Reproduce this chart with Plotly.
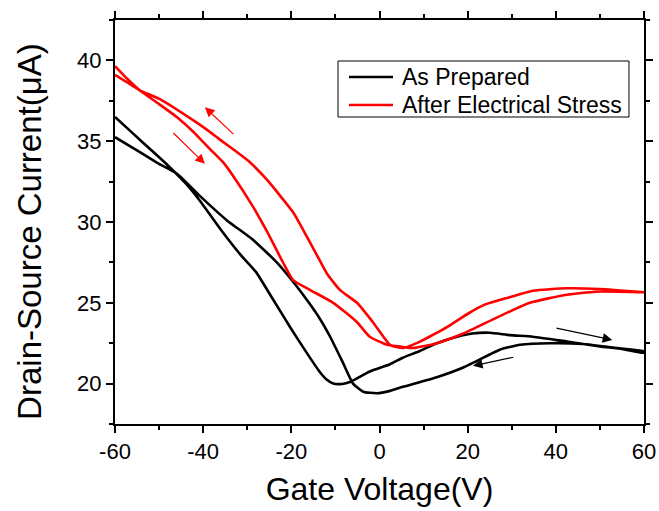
import plotly.graph_objects as go

# ---- data (Gate voltage V, Drain-source current uA) ----
# As Prepared: forward sweep (-60 -> 60)
ap_fwd_v = [-60, -56, -52, -48, -44, -40.7, -36.2, -31.6, -28, -24.8, -20.3, -16.5, -13.5, -12,
            -10.5, -8.5, -6.7, -2.2, 2.4, 5.3, 9, 13, 17.6, 21, 25, 29.6, 34.8, 42.5, 50, 55, 60]
ap_fwd_i = [36.5, 35.5, 34.5, 33.5, 32.4, 31.3, 29.6, 28.0, 26.9, 25.5, 23.5, 21.9, 20.7, 20.25,
            20.0, 19.98, 20.1, 20.75, 21.2, 21.6, 22.0, 22.5, 22.9, 23.1, 23.15, 23.0, 22.9, 22.6, 22.3, 22.15, 21.9]
# As Prepared: reverse sweep (60 -> -60)
ap_rev_v = [60, 53.9, 46.2, 38.7, 31.9, 27.3, 25, 19, 13, 5.3, 2.4, -0.6, -3.7, -6, -8.3, -11.2,
            -13.5, -16, -19.6, -23.3, -28.7, -34.6, -40.7, -46, -50, -53.6, -60]
ap_rev_i = [22.0, 22.2, 22.45, 22.5, 22.4, 22.1, 21.8, 21.0, 20.4, 19.8, 19.55, 19.4, 19.5, 20.0,
            21.3, 22.9, 24.0, 25.0, 26.3, 27.5, 28.9, 30.1, 31.6, 33.0, 33.6, 34.2, 35.25]

# After Electrical Stress: forward sweep (-60 -> 60)
es_fwd_v = [-60, -57, -54.4, -50, -46, -42.3, -40.7, -38.4, -35.5, -33.2, -28.7, -25.5, -21.9,
            -19.6, -15.8, -10.5, -5.1, -2.2, 1.7, 5.3, 7.6, 13, 19, 26.7, 34.1, 42.5, 50, 60]
es_fwd_i = [39.65, 38.8, 38.15, 37.3, 36.5, 35.6, 35.15, 34.5, 33.7, 32.85, 30.95, 29.4, 27.5,
            26.4, 25.8, 25.0, 23.8, 22.9, 22.4, 22.27, 22.2, 22.5, 23.1, 24.1, 25.0, 25.5, 25.7, 25.65]
# After Electrical Stress: reverse sweep (60 -> -60)
es_rev_v = [60, 50, 42.5, 34.8, 28.9, 24, 20.5, 15.3, 12, 9.2, 5.3, 2.4, -1.5, -5.1, -9, -11.9,
            -13.5, -15.1, -17.3, -19.6, -25.5, -29.4, -33.2, -36.2, -39.1, -42.3, -49.8, -54.4, -57, -60]
es_rev_i = [25.65, 25.85, 25.9, 25.75, 25.3, 24.9, 24.4, 23.5, 23.0, 22.6, 22.2, 22.4, 23.8, 25.0,
            25.8, 26.8, 27.6, 28.4, 29.5, 30.6, 32.6, 33.7, 34.5, 35.1, 35.7, 36.3, 37.6, 38.15, 38.6, 39.1]

series_names = ["As Prepared", "After Electrical Stress"]
series_colors = ["#000000", "#ff0000"]

x_tick_vals = [-60, -40, -20, 0, 20, 40, 60]
x_tick_text = ["-60", "-40", "-20", "0", "20", "40", "60"]
y_tick_vals = [20, 25, 30, 35, 40]
y_tick_text = ["20", "25", "30", "35", "40"]

x_title = "Gate Voltage(V)"
y_title = "Drain-Source Current(μA)"

# sweep-direction arrows: (tail_v, tail_i, head_v, head_i, color)
arrows = [
    (39.8, 23.45, 52.8, 22.7, "#000000"),
    (30.7, 21.65, 21.2, 21.1, "#000000"),
    (-32.8, 35.35, -39.6, 37.1, "#ff0000"),
    (-47.1, 35.6, -39.6, 33.6, "#ff0000"),
]

FONT = "Liberation Sans, Arial, sans-serif"

fig = go.Figure()
for name, color, (xv, yv) in zip(
    series_names, series_colors,
    [(ap_fwd_v + ap_rev_v, ap_fwd_i + ap_rev_i), (es_fwd_v + es_rev_v, es_fwd_i + es_rev_i)]):
    fig.add_trace(go.Scatter(x=xv, y=yv, mode="lines", name=name, showlegend=False,
                             line=dict(color=color, width=2.6, shape="spline", smoothing=0.5)))

for tv, ti, hv, hi, c in arrows:
    fig.add_annotation(x=hv, y=hi, ax=tv, ay=ti, xref="x", yref="y", axref="x", ayref="y",
                       showarrow=True, arrowhead=2, arrowsize=1.6, arrowwidth=1.2,
                       arrowcolor=c, text="")

# ---- custom legend box (paper coordinates) ----
LEG_X0, LEG_X1, LEG_Y0, LEG_Y1 = 0.4216, 0.9716, 0.7599, 0.8985
LEG_LINE_X0, LEG_LINE_X1, LEG_TEXT_X = 0.4423, 0.5255, 0.5388
LEG_ROWS = [0.8589, 0.7896]
fig.add_shape(type="rect", xref="paper", yref="paper", x0=LEG_X0, x1=LEG_X1, y0=LEG_Y0, y1=LEG_Y1,
              line=dict(color="black", width=1), fillcolor="white", layer="above")
for name, color, ry in zip(series_names, series_colors, LEG_ROWS):
    fig.add_shape(type="line", xref="paper", yref="paper", x0=LEG_LINE_X0, x1=LEG_LINE_X1,
                  y0=ry, y1=ry, line=dict(color=color, width=2.6), layer="above")
    fig.add_annotation(x=LEG_TEXT_X, y=ry, xref="paper", yref="paper", text=name, showarrow=False,
                       xanchor="left", yanchor="middle",
                       font=dict(family=FONT, size=23, color="black"))

# y-axis title as annotation (slightly below plot centre as in the reference)
fig.add_annotation(x=-0.1607, y=0.478, xref="paper", yref="paper", text=y_title, showarrow=False,
                   textangle=-90, xanchor="center", yanchor="middle",
                   font=dict(family=FONT, size=33, color="black"))

axis_common = dict(showline=True, linecolor="black", linewidth=2, mirror="allticks",
                   ticks="outside", tickcolor="black", tickwidth=1.5, ticklen=7,
                   showgrid=False, zeroline=False, automargin=False,
                   tickfont=dict(family=FONT, size=22, color="black"))

fig.update_xaxes(range=[-60, 60], tickvals=x_tick_vals, ticktext=x_tick_text,
                 minor=dict(dtick=10, ticks="outside", ticklen=4, tickcolor="black", tickwidth=1.5),
                 title=dict(text=x_title, font=dict(family=FONT, size=32, color="black"),
                            standoff=14),
                 **axis_common)
fig.update_yaxes(range=[17.5, 42.5], tickvals=y_tick_vals, ticktext=y_tick_text,
                 minor=dict(dtick=2.5, tick0=0, ticks="outside", ticklen=4, tickcolor="black", tickwidth=1.5),
                 **axis_common)

fig.update_layout(
    width=659, height=511,
    margin=dict(l=115, r=15, t=20, b=87),
    paper_bgcolor="white", plot_bgcolor="white",
    showlegend=False,
)

fig.write_html("out.html")
